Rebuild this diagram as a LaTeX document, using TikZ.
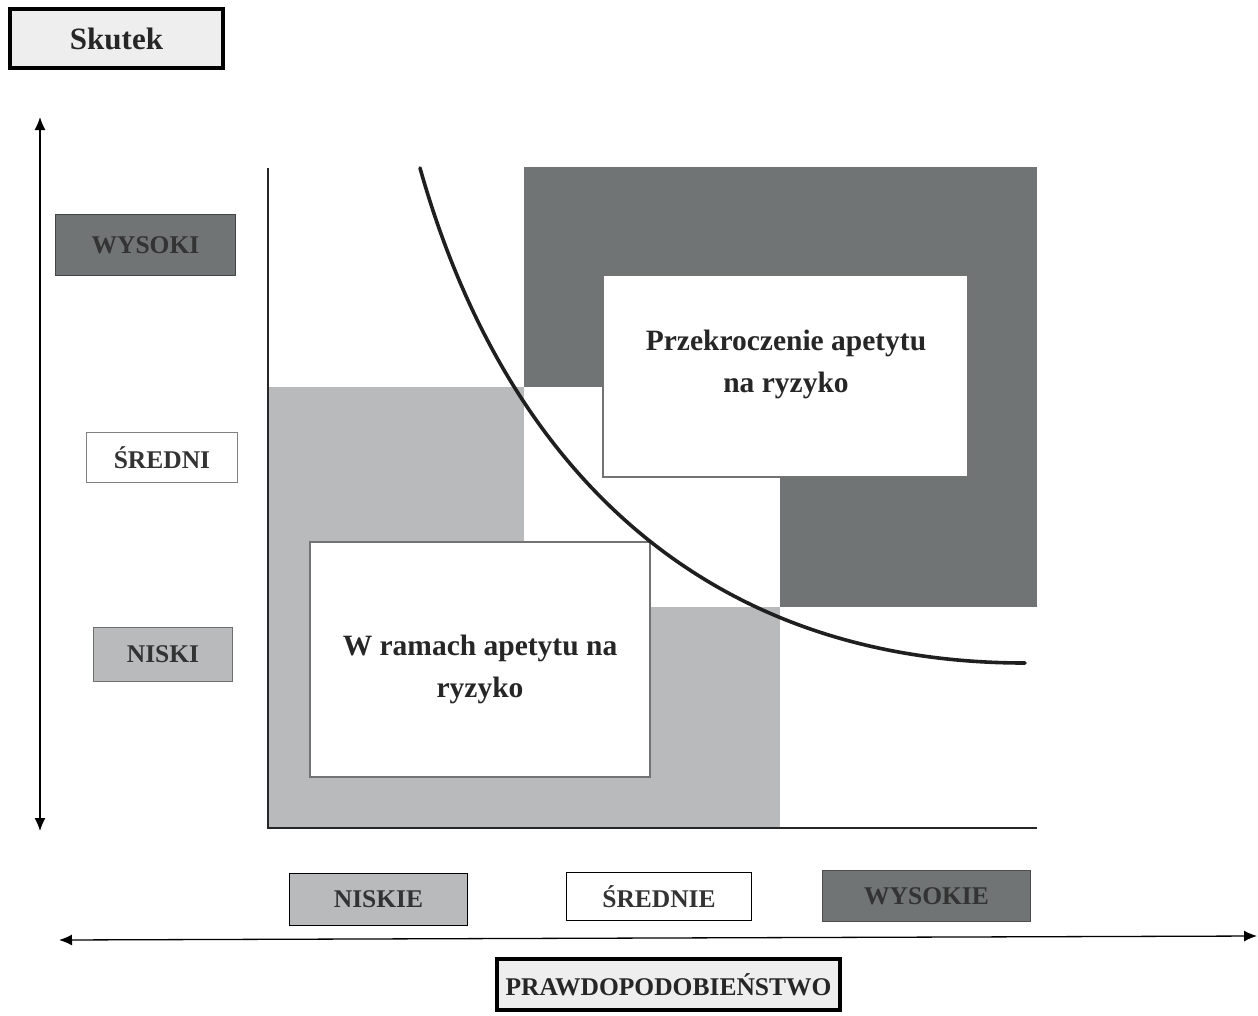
\documentclass[tikz,border=0pt]{standalone}
\usepackage{fontspec}
\setmainfont{Liberation Serif}
\usetikzlibrary{arrows.meta}
\definecolor{darkc}{HTML}{707474}
\definecolor{lightc}{HTML}{B8BABB}
\definecolor{paleC}{HTML}{EEEEEE}
\definecolor{txtc}{HTML}{333333}
\begin{document}
\begin{tikzpicture}[x=1pt,y=-1pt,
  cellbox/.style={inner sep=0pt, outer sep=0pt, minimum width=256pt, minimum height=220pt, anchor=north west},
  titlebox/.style={draw=black, line width=4pt, fill=paleC, inner sep=0pt, font=\bfseries, text=black!85},
  lbl/.style={draw=#1!60!black, line width=1.2pt, inner sep=0pt, font=\fontsize{25.5}{28}\selectfont\bfseries, text=txtc},
  xlbl/.style={draw=black, line width=1.8pt, inner sep=0pt, font=\fontsize{25.5}{28}\selectfont\bfseries, text=txtc},
  msgbox/.style={draw=black!55, line width=1.2pt, fill=white, inner sep=0pt},
  msgtext/.style={inner sep=0pt, align=center, font=\fontsize{29.5}{42}\selectfont\bfseries, text=black!85},
  axisarrow/.style={line width=1.3pt, {Latex[length=13pt,width=11pt]}-{Latex[length=13pt,width=11pt]}},
  curvestyle/.style={line width=3.6pt, black!88, line cap=round}
]
\useasboundingbox (0,0) rectangle (1258,1015);
% grid cells
\node[cellbox, fill=white]  (c11) at (268,167) {};
\node[cellbox, fill=darkc]  (c12) at (524,167) {};
\node[cellbox, fill=darkc, minimum width=257pt]  (c13) at (780,167) {};
\node[cellbox, fill=lightc] (c21) at (268,387) {};
\node[cellbox, fill=white]  (c22) at (524,387) {};
\node[cellbox, fill=darkc, minimum width=257pt]  (c23) at (780,387) {};
\node[cellbox, fill=lightc, minimum height=221pt] (c31) at (268,607) {};
\node[cellbox, fill=lightc, minimum height=221pt] (c32) at (524,607) {};
\node[cellbox, fill=white, minimum width=257pt, minimum height=221pt]  (c33) at (780,607) {};
% message boxes
\node[msgbox, minimum width=365pt, minimum height=202pt] (hi) at (785.5,376) {};
\node[msgtext] (hit) at (786,364) {Przekroczenie apetytu\\na ryzyko};
\node[msgbox, minimum width=340pt, minimum height=235pt] (lo) at (480,659.5) {};
\node[msgtext] (lot) at (480,669) {W ramach apetytu na\\ryzyko};
% axes of plot
\coordinate (o) at (268,828);
\coordinate (ytop) at (268,168);
\coordinate (xend) at (1037,828);
\draw[line width=2pt, black!85] (ytop) -- (o) -- (xend);
% curve
\coordinate (cs) at (420,168);
\coordinate (ce) at (1025,663);
\draw[curvestyle] (cs) .. controls (503,463) and (700,663) .. (ce);
% outer arrows
\coordinate (vtop) at (40,117);
\coordinate (vbot) at (40,831);
\draw[axisarrow] (vtop) -- (vbot);
\coordinate (hleft) at (59,940);
\coordinate (hright) at (1257,936);
\draw[axisarrow] (hleft) -- (hright);
% title boxes
\node[titlebox, minimum width=213pt, minimum height=59pt, font=\fontsize{31}{34}\selectfont\bfseries] (sk) at (116.5,38.5) {Skutek};
\node[titlebox, minimum width=343pt, minimum height=51pt, font=\fontsize{25.5}{28}\selectfont\bfseries] (pr) at (668.5,984.5) {PRAWDOPODOBIEŃSTWO};
% y labels
\node[lbl=darkc, fill=darkc, minimum width=180pt, minimum height=61pt] (wy) at (145.5,245) {WYSOKI};
\node[lbl=white, draw=black!50, fill=white, minimum width=151pt, minimum height=50pt] (sr) at (162,457.5) {ŚREDNI};
\node[lbl=lightc, fill=lightc, minimum width=139pt, minimum height=54pt] (ni) at (163,654.5) {NISKI};
% x labels
\node[xlbl, fill=lightc, minimum width=178pt, minimum height=52pt] (nie) at (378.5,899.5) {NISKIE};
\node[xlbl, fill=white, minimum width=185pt, minimum height=48pt] (sre) at (659,896.5) {ŚREDNIE};
\node[xlbl, draw=black!70, fill=darkc, minimum width=208pt, minimum height=51pt] (wye) at (926.5,896) {WYSOKIE};
\end{tikzpicture}
\end{document}
